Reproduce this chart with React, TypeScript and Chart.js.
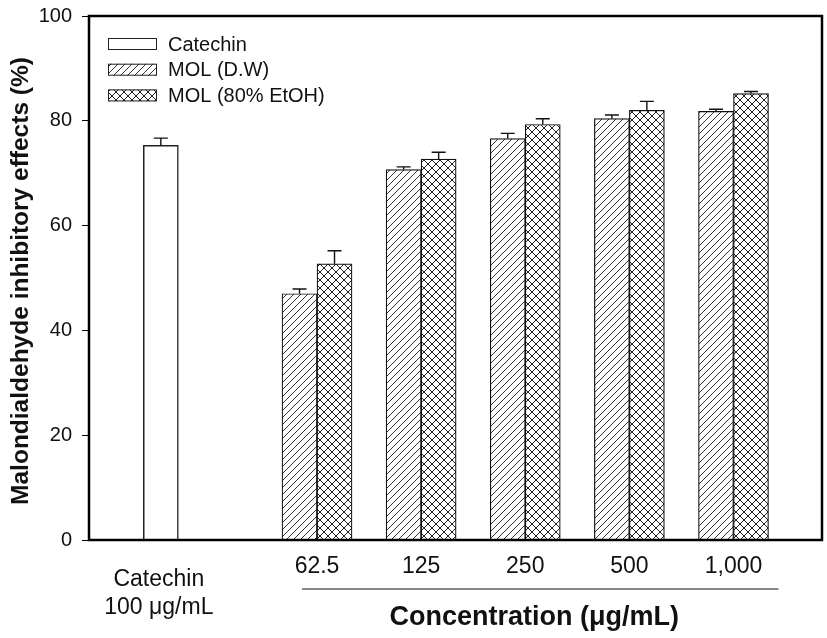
import React, { useEffect, useRef } from 'react';
import { Chart, registerables } from 'chart.js';

Chart.register(...registerables);

// ---- data ----
const seriesNames = ['Catechin', 'MOL (D.W)', 'MOL (80% EtOH)'];
const catechinLabel = ['Catechin', '100 \u03bcg/mL'];
const catechinValue = [75.3];
const catechinError = [1.4];
const concentrations = ['62.5', '125', '250', '500', '1,000'];
const molDW = [47.0, 70.7, 76.6, 80.4, 81.8];
const molDWError = [0.9, 0.5, 1.0, 0.7, 0.4];
const molEtOH = [52.7, 72.7, 79.3, 82.0, 85.2];
const molEtOHError = [2.5, 1.3, 1.1, 1.7, 0.4];
const yTitle = 'Malondialdehyde inhibitory effects (%)';
const xTitle = 'Concentration (\u03bcg/mL)';

// slot of the catechin control and of the first concentration group on the x axis
const catechinSlot = 0;
const firstGroupSlot = 1.5;

const FONT = "'Liberation Sans', Arial, sans-serif";

function makeDiagonal(): CanvasPattern | string {
  const s = 7;
  const c = document.createElement('canvas');
  c.width = s; c.height = s;
  const g = c.getContext('2d');
  if (!g) return '#fff';
  g.fillStyle = '#fff';
  g.fillRect(0, 0, s, s);
  g.strokeStyle = '#333';
  g.lineWidth = 1;
  g.beginPath();
  g.moveTo(-1, s + 1); g.lineTo(s + 1, -1);
  g.moveTo(-1, 1); g.lineTo(1, -1);
  g.moveTo(s - 1, s + 1); g.lineTo(s + 1, s - 1);
  g.stroke();
  return g.createPattern(c, 'repeat') || '#fff';
}

function makeCross(): CanvasPattern | string {
  const s = 8;
  const c = document.createElement('canvas');
  c.width = s; c.height = s;
  const g = c.getContext('2d');
  if (!g) return '#fff';
  g.fillStyle = '#fff';
  g.fillRect(0, 0, s, s);
  g.strokeStyle = '#222';
  g.lineWidth = 1;
  g.beginPath();
  g.moveTo(-1, s + 1); g.lineTo(s + 1, -1);
  g.moveTo(-1, 1); g.lineTo(1, -1);
  g.moveTo(s - 1, s + 1); g.lineTo(s + 1, s - 1);
  g.moveTo(-1, -1); g.lineTo(s + 1, s + 1);
  g.moveTo(-1, s - 1); g.lineTo(1, s + 1);
  g.moveTo(s - 1, -1); g.lineTo(s + 1, 1);
  g.stroke();
  return g.createPattern(c, 'repeat') || '#fff';
}

export default function App() {
  const ref = useRef<HTMLCanvasElement | null>(null);

  useEffect(() => {
    const canvas = ref.current;
    if (!canvas) return;
    const diag = makeDiagonal();
    const cross = makeCross();
    const errors = [catechinError, molDWError, molEtOHError];

    const annotate = {
      id: 'annotate',
      afterDatasetsDraw(chart: any) {
        const ctx = chart.ctx;
        const ys = chart.scales.y;
        ctx.save();
        ctx.strokeStyle = '#111';
        ctx.lineWidth = 1.4;
        chart.data.datasets.forEach((ds: any, di: number) => {
          const meta = chart.getDatasetMeta(di);
          meta.data.forEach((el: any, i: number) => {
            const v = ds.data[i].y;
            const top = ys.getPixelForValue(v + errors[di][i]);
            ctx.beginPath();
            ctx.moveTo(el.x, el.y);
            ctx.lineTo(el.x, top);
            ctx.moveTo(el.x - 7, top);
            ctx.lineTo(el.x + 7, top);
            ctx.stroke();
          });
        });
        ctx.restore();
      },
      afterDraw(chart: any) {
        const ctx = chart.ctx;
        const a = chart.chartArea;
        const xs = chart.scales.x;
        ctx.save();
        // frame
        ctx.strokeStyle = '#000';
        ctx.lineWidth = 2.5;
        ctx.strokeRect(a.left, a.top, a.right - a.left, a.bottom - a.top);

        // legend
        const fills = chart.data.datasets.map((d: any) => d.backgroundColor);
        seriesNames.forEach((name, i) => {
          const cy = a.top + 28 + i * 25.7;
          const bx = a.left + 19;
          ctx.fillStyle = fills[i];
          ctx.fillRect(bx, cy - 6, 49, 12);
          ctx.strokeStyle = '#222';
          ctx.lineWidth = 1;
          ctx.strokeRect(bx + 0.5, cy - 6 + 0.5, 48, 11);
          ctx.fillStyle = '#111';
          ctx.font = `20px ${FONT}`;
          ctx.textAlign = 'left';
          ctx.textBaseline = 'middle';
          ctx.fillText(name, bx + 60, cy + 1);
        });

        // x labels
        ctx.fillStyle = '#111';
        ctx.font = `23px ${FONT}`;
        ctx.textAlign = 'center';
        ctx.textBaseline = 'alphabetic';
        concentrations.forEach((c, i) => {
          ctx.fillText(c, xs.getPixelForValue(firstGroupSlot + i), a.bottom + 33);
        });
        const cx = xs.getPixelForValue(catechinSlot) - 2;
        ctx.fillText(catechinLabel[0], cx, a.bottom + 46);
        ctx.fillText(catechinLabel[1], cx, a.bottom + 74);

        // underline for concentration group
        const l = xs.getPixelForValue(firstGroupSlot) - 15;
        const r = xs.getPixelForValue(firstGroupSlot + concentrations.length - 1) + 45;
        ctx.strokeStyle = '#111';
        ctx.lineWidth = 1.2;
        ctx.beginPath();
        ctx.moveTo(l, a.bottom + 49);
        ctx.lineTo(r, a.bottom + 49);
        ctx.stroke();

        // x title
        ctx.font = `bold 27px ${FONT}`;
        ctx.fillText(xTitle, (l + r) / 2 - 6, a.bottom + 85);

        // y title
        ctx.translate(28, (a.top + a.bottom) / 2 + 3);
        ctx.rotate(-Math.PI / 2);
        ctx.font = `bold 24.5px ${FONT}`;
        ctx.textBaseline = 'alphabetic';
        ctx.fillText(yTitle, 0, 0);
        ctx.restore();
      },
    };

    const chart = new Chart(canvas, {
      type: 'bar',
      data: {
        datasets: [
          {
            label: seriesNames[0],
            data: catechinValue.map((v) => ({ x: catechinSlot, y: v })),
            backgroundColor: '#ffffff',
            borderColor: '#222',
            borderWidth: 1.5,
            grouped: false,
            barThickness: 35,
          } as any,
          {
            label: seriesNames[1],
            data: molDW.map((v, i) => ({ x: firstGroupSlot + i, y: v })),
            backgroundColor: diag,
            borderColor: '#111',
            borderWidth: 1.2,
            barThickness: 35,
          } as any,
          {
            label: seriesNames[2],
            data: molEtOH.map((v, i) => ({ x: firstGroupSlot + i, y: v })),
            backgroundColor: cross,
            borderColor: '#111',
            borderWidth: 1.2,
            barThickness: 35,
          } as any,
        ],
      },
      options: {
        responsive: false,
        animation: false,
        layout: { padding: { left: 0, top: 16, right: 5, bottom: 98 } },
        plugins: {
          legend: { display: false },
          tooltip: { enabled: false },
        },
        scales: {
          x: {
            type: 'linear',
            min: -0.69,
            max: 6.35,
            offset: false,
            grid: { offset: false },
            display: false,
          },
          y: {
            min: 0,
            max: 100,
            ticks: {
              stepSize: 20,
              color: '#111',
              font: { family: FONT, size: 20 },
              padding: 10,
            },
            grid: {
              drawOnChartArea: false,
              drawTicks: true,
              tickLength: 7,
              color: '#000',
              lineWidth: 1,
            },
            border: { display: false },
            afterFit: (s: any) => {
              s.width = 89;
              s.paddingTop = 0;
              s.paddingBottom = 0;
            },
          },
        },
      } as any,
      plugins: [annotate],
    });

    return () => chart.destroy();
  }, []);

  return (
    <div style={{ position: 'fixed', left: 0, top: 0, width: 827, height: 638, background: '#fff' }}>
      <canvas ref={ref} width={827} height={638} style={{ display: 'block' }} />
    </div>
  );
}
